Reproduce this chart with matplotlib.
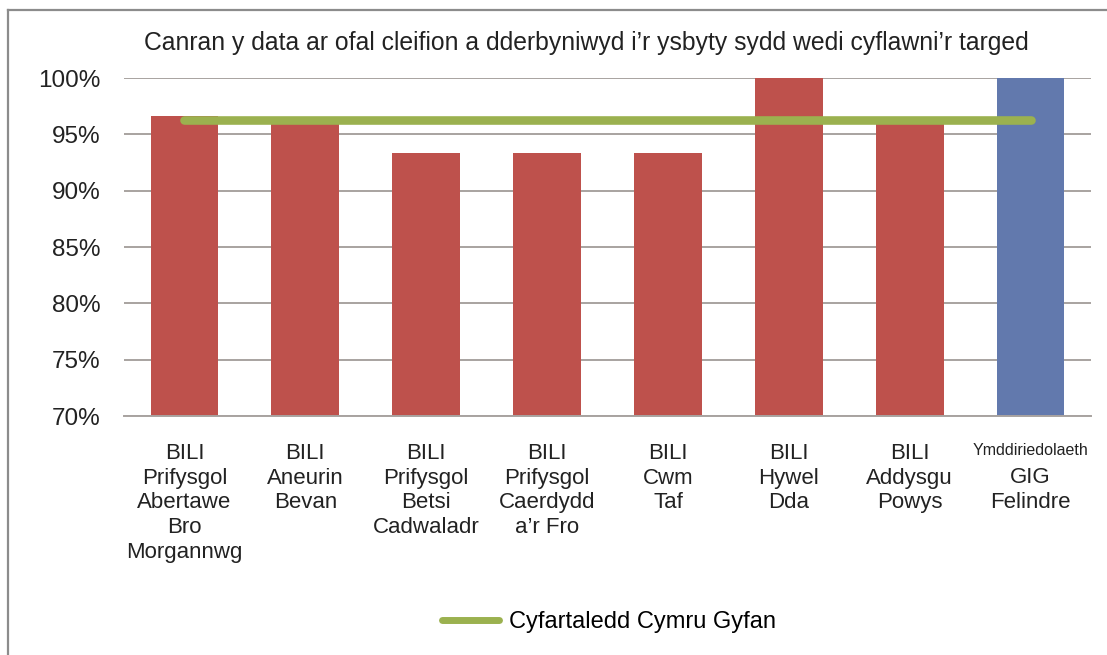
import matplotlib
matplotlib.use("Agg")
import matplotlib.pyplot as plt
from matplotlib.transforms import blended_transform_factory
from matplotlib.lines import Line2D

plt.rcParams['font.family'] = ['Liberation Sans', 'DejaVu Sans']

title = "Canran y data ar ofal cleifion a dderbyniwyd i\u2019r ysbyty sydd wedi cyflawni\u2019r targed"
first_lines = ["BILI", "BILI", "BILI", "BILI", "BILI", "BILI", "BILI", "Ymddiriedolaeth"]
rest_lines = ["Prifysgol\nAbertawe\nBro\nMorgannwg", "Aneurin\nBevan", "Prifysgol\nBetsi\nCadwaladr",
              "Prifysgol\nCaerdydd\na\u2019r Fro", "Cwm\nTaf", "Hywel\nDda", "Addysgu\nPowys", "GIG\nFelindre"]
values = [96.67, 96.0, 93.33, 93.33, 93.33, 100.0, 96.0, 100.0]
bar_colors = ["#BE514C"] * 7 + ["#6279AD"]
wales_avg = 96.25
avg_label = "Cyfartaledd Cymru Gyfan"
yticks = [70, 75, 80, 85, 90, 95, 100]
ytick_labels = ["70%", "75%", "80%", "85%", "90%", "95%", "100%"]

fig = plt.figure(figsize=(11.07, 6.55), dpi=100)
fig.patch.set_facecolor("white")

# outer frame (left and top edges visible)
fig.add_artist(Line2D([8/1107, 8/1107], [0, 1 - 10/655], transform=fig.transFigure, color="#8C8C8C", lw=1.6))
fig.add_artist(Line2D([8/1107, 1], [1 - 10/655, 1 - 10/655], transform=fig.transFigure, color="#8C8C8C", lw=1.6))

ax = fig.add_axes([124/1107, 1 - 416/655, (1091 - 124)/1107, (416 - 78)/655])
x = list(range(len(values)))
ax.bar(x, [v - 70 for v in values], bottom=70, width=0.56, color=bar_colors, zorder=2)
ax.plot([x[0], x[-1]], [wales_avg, wales_avg], color="#9BB14F", lw=6.2,
        solid_capstyle="round", zorder=3, label=avg_label)

ax.set_xlim(-0.5, len(values) - 0.5)
ax.set_ylim(70, 100)
ax.set_yticks(yticks)
ax.set_yticklabels(ytick_labels, fontsize=17.5, color="#222222")
ax.tick_params(axis="y", length=0, pad=17)
ax.set_xticks([])
ax.yaxis.grid(True, color="#A8A3A0", lw=1.4, zorder=0)
ax.set_axisbelow(True)
for s in ["left", "right", "top"]:
    ax.spines[s].set_visible(False)
ax.spines["bottom"].set_color("#A8A3A0")
ax.spines["bottom"].set_linewidth(1.4)
ax.spines["bottom"].set_zorder(4)

trans = blended_transform_factory(ax.transData, fig.transFigure)
for i in x:
    if i < 7:
        ax.text(i, 1 - 443/655, first_lines[i] + "\n" + rest_lines[i], transform=trans,
                ha="center", va="top", fontsize=16, linespacing=1.23, color="#222222")
    else:
        ax.text(i, 1 - 443/655, first_lines[i], transform=trans,
                ha="center", va="top", fontsize=11.5, color="#222222")
        ax.text(i, 1 - 467/655, rest_lines[i], transform=trans,
                ha="center", va="top", fontsize=16, linespacing=1.23, color="#222222")

fig.text(586/1107, 1 - 50/655, title, ha="center", va="baseline", fontsize=17.8, color="#222222")

fig.legend(handles=[Line2D([], [], color="#9BB14F", lw=5, solid_capstyle="round")], labels=[avg_label],
           loc="center", bbox_to_anchor=(609/1107, 1 - 622/655), frameon=False, fontsize=17,
           handlelength=2.4, handletextpad=0.45)

fig.savefig("out.png", dpi=100, facecolor="white")
